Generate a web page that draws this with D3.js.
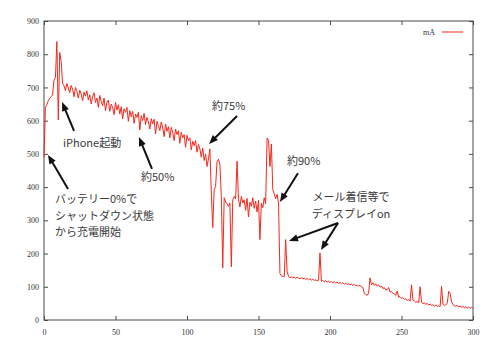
<!DOCTYPE html>
<html>
<head>
<meta charset="utf-8">
<script src="https://cdn.jsdelivr.net/npm/d3@7/dist/d3.min.js"></script>
<style>
  html, body { margin: 0; padding: 0; background: #fff; }
  svg { display: block; }
</style>
</head>
<body>
<svg id="chart" width="500" height="355"></svg>
<script>
// ---- data (x = seconds 0..300, step 1) ----
const xTicks = [0, 50, 100, 150, 200, 250, 300];
const yTicks = [0, 100, 200, 300, 400, 500, 600, 700, 800, 900];
const seriesName = "mA";
const current = [
  490, 640, 648, 660, 668, 672, 678, 722, 730, 838,
  602, 805, 778, 712, 705, 690, 712, 698, 684, 706,
  695, 672, 700, 688, 668, 692, 680, 660, 686, 674,
  690, 662, 678, 650, 672, 684, 655, 668, 640, 676,
  658, 645, 668, 630, 655, 662, 628, 650, 640, 618,
  655, 632, 648, 620, 642, 605, 636, 625, 640, 598,
  630, 612, 628, 592, 620, 610, 625, 572, 615, 600,
  622, 588, 610, 596, 575, 606, 590, 604, 560, 598,
  585, 570, 596, 578, 552, 590, 568, 582, 548, 580,
  565, 540, 575, 558, 570, 532, 565, 548, 558, 520,
  556, 540, 548, 512, 538, 525, 540, 505, 528, 515,
  490, 518, 480, 500, 462, 485, 515, 385, 278, 392,
  402, 476, 484, 468, 372, 157, 368, 355, 350, 342,
  352, 160, 362, 372, 365, 478, 365, 340, 372, 352,
  362, 330, 366, 310, 355, 342, 368, 336, 358, 325,
  360, 242, 352, 338, 368, 350, 548, 540, 462, 530,
  392, 380, 365, 378, 352, 140, 133, 131, 130, 242,
  145, 132, 127, 131, 126, 130, 125, 129, 126, 124,
  128, 123, 126, 122, 125, 121, 124, 120, 123, 119,
  121, 118, 120, 202, 117, 119, 115, 118, 114, 117,
  113, 116, 112, 115, 111, 114, 110, 113, 109, 112,
  108, 111, 107, 109, 106, 108, 104, 107, 103, 105,
  102, 104, 100, 98, 80, 77, 74, 81, 127, 106,
  112, 104, 109, 102, 106, 99, 102, 95, 97, 90,
  92, 98, 84, 86, 80, 79, 74, 87, 69, 70,
  65, 67, 62, 64, 59, 61, 57, 106, 60, 57,
  53, 56, 51, 100, 54, 49, 52, 47, 50, 45,
  48, 44, 46, 42, 45, 41, 43, 40, 102, 47,
  44, 46, 50, 86, 80, 55, 46, 43, 41, 44,
  39, 42, 38, 41, 37, 40, 36, 39, 35, 38,
  36
];
// annotations in data coordinates
const textNotes = [
  {lines: ["iPhone起動"], x: 13.3, y: 521, anchor: "start"},
  {lines: ["約50%"], x: 67.8, y: 418, anchor: "start"},
  {lines: ["約75%"], x: 117.5, y: 632, anchor: "start"},
  {lines: ["約90%"], x: 169.9, y: 467, anchor: "start"},
  {lines: ["メール着信等で", "ディスプレイon"], x: 214.7, y: 358, anchor: "middle"},
  {lines: ["バッテリー0%で", "シャットダウン状態", "から充電開始"], x: 7.7, y: 352, anchor: "start"}
];
const arrows = [
  {x1: 21.0, y1: 569, x2: 12.6, y2: 656},
  {x1: 75.5, y1: 455, x2: 66.4, y2: 551},
  {x1: 135.0, y1: 614, x2: 115.4, y2: 530},
  {x1: 177.6, y1: 442, x2: 165.0, y2: 355},
  {x1: 205.6, y1: 292, x2: 171.3, y2: 238},
  {x1: 205.6, y1: 292, x2: 193.7, y2: 211},
  {x1: 16.8, y1: 394, x2: 2.8, y2: 497}
];

// ---- drawing ----
const svg = d3.select("#chart");
const L = 44, R = 473, T = 21, B = 320;
const x = d3.scaleLinear().domain([0, 300]).range([L, R]);
const y = d3.scaleLinear().domain([0, 900]).range([B, T]);
const axisColor = "#4a4a4a";
const serif = "'Liberation Serif', 'DejaVu Serif', serif";

function styleAxis(g, showLabels) {
  g.select(".domain").remove();
  g.selectAll(".tick line").attr("stroke", axisColor).attr("stroke-width", 1);
  g.selectAll(".tick text")
    .attr("fill", "#333")
    .attr("font-family", serif)
    .attr("font-size", 8);
  if (!showLabels) g.selectAll(".tick text").remove();
}

svg.append("g").attr("transform", `translate(0,${B})`)
  .call(d3.axisBottom(x).tickValues(xTicks).tickSize(-4).tickPadding(9).tickFormat(d3.format("d")))
  .call(g => styleAxis(g, true));
svg.append("g").attr("transform", `translate(0,${T})`)
  .call(d3.axisTop(x).tickValues(xTicks).tickSize(-4))
  .call(g => styleAxis(g, false));
svg.append("g").attr("transform", `translate(${L},0)`)
  .call(d3.axisLeft(y).tickValues(yTicks).tickSize(-4).tickPadding(5).tickFormat(d3.format("d")))
  .call(g => styleAxis(g, true));
svg.append("g").attr("transform", `translate(${R},0)`)
  .call(d3.axisRight(y).tickValues(yTicks).tickSize(-4))
  .call(g => styleAxis(g, false));

// frame
svg.append("rect")
  .attr("x", L).attr("y", T).attr("width", R - L).attr("height", B - T)
  .attr("fill", "none").attr("stroke", axisColor).attr("stroke-width", 1);

// line
const lineColor = "#f5281c";
const line = d3.line().x((d, i) => x(i)).y(d => y(d));
svg.append("path")
  .datum(current)
  .attr("d", line)
  .attr("fill", "none")
  .attr("stroke", lineColor)
  .attr("stroke-width", 1)
  .attr("stroke-linejoin", "round");

// legend
svg.append("text")
  .attr("x", 435).attr("y", 34.5)
  .attr("text-anchor", "end")
  .attr("font-family", serif).attr("font-size", 8).attr("fill", "#333")
  .text(seriesName);
svg.append("line")
  .attr("x1", 442).attr("x2", 463).attr("y1", 32).attr("y2", 32)
  .attr("stroke", lineColor).attr("stroke-width", 1);

// annotations
const sans = "'Noto Sans CJK JP', 'Noto Sans', sans-serif";
textNotes.forEach(n => {
  const t = svg.append("text")
    .attr("x", x(n.x)).attr("y", y(n.y))
    .attr("text-anchor", n.anchor)
    .attr("font-family", sans).attr("font-size", 11).attr("fill", "#3a3a3a");
  n.lines.forEach((s, i) => {
    t.append("tspan").attr("x", x(n.x)).attr("dy", i === 0 ? 0 : 16.5).text(s);
  });
});

arrows.forEach(a => {
  const x1 = x(a.x1), y1 = y(a.y1), x2 = x(a.x2), y2 = y(a.y2);
  const dx = x2 - x1, dy = y2 - y1, len = Math.hypot(dx, dy);
  const ux = dx / len, uy = dy / len;
  const hl = 9, hw = 3.6;
  const bx = x2 - ux * hl, by = y2 - uy * hl;
  svg.append("line")
    .attr("x1", x1).attr("y1", y1).attr("x2", bx + ux * 1).attr("y2", by + uy * 1)
    .attr("stroke", "#111").attr("stroke-width", 2);
  svg.append("path")
    .attr("d", `M${x2},${y2}L${bx - uy * hw},${by + ux * hw}L${bx + uy * hw},${by - ux * hw}Z`)
    .attr("fill", "#111");
});
</script>
</body>
</html>
